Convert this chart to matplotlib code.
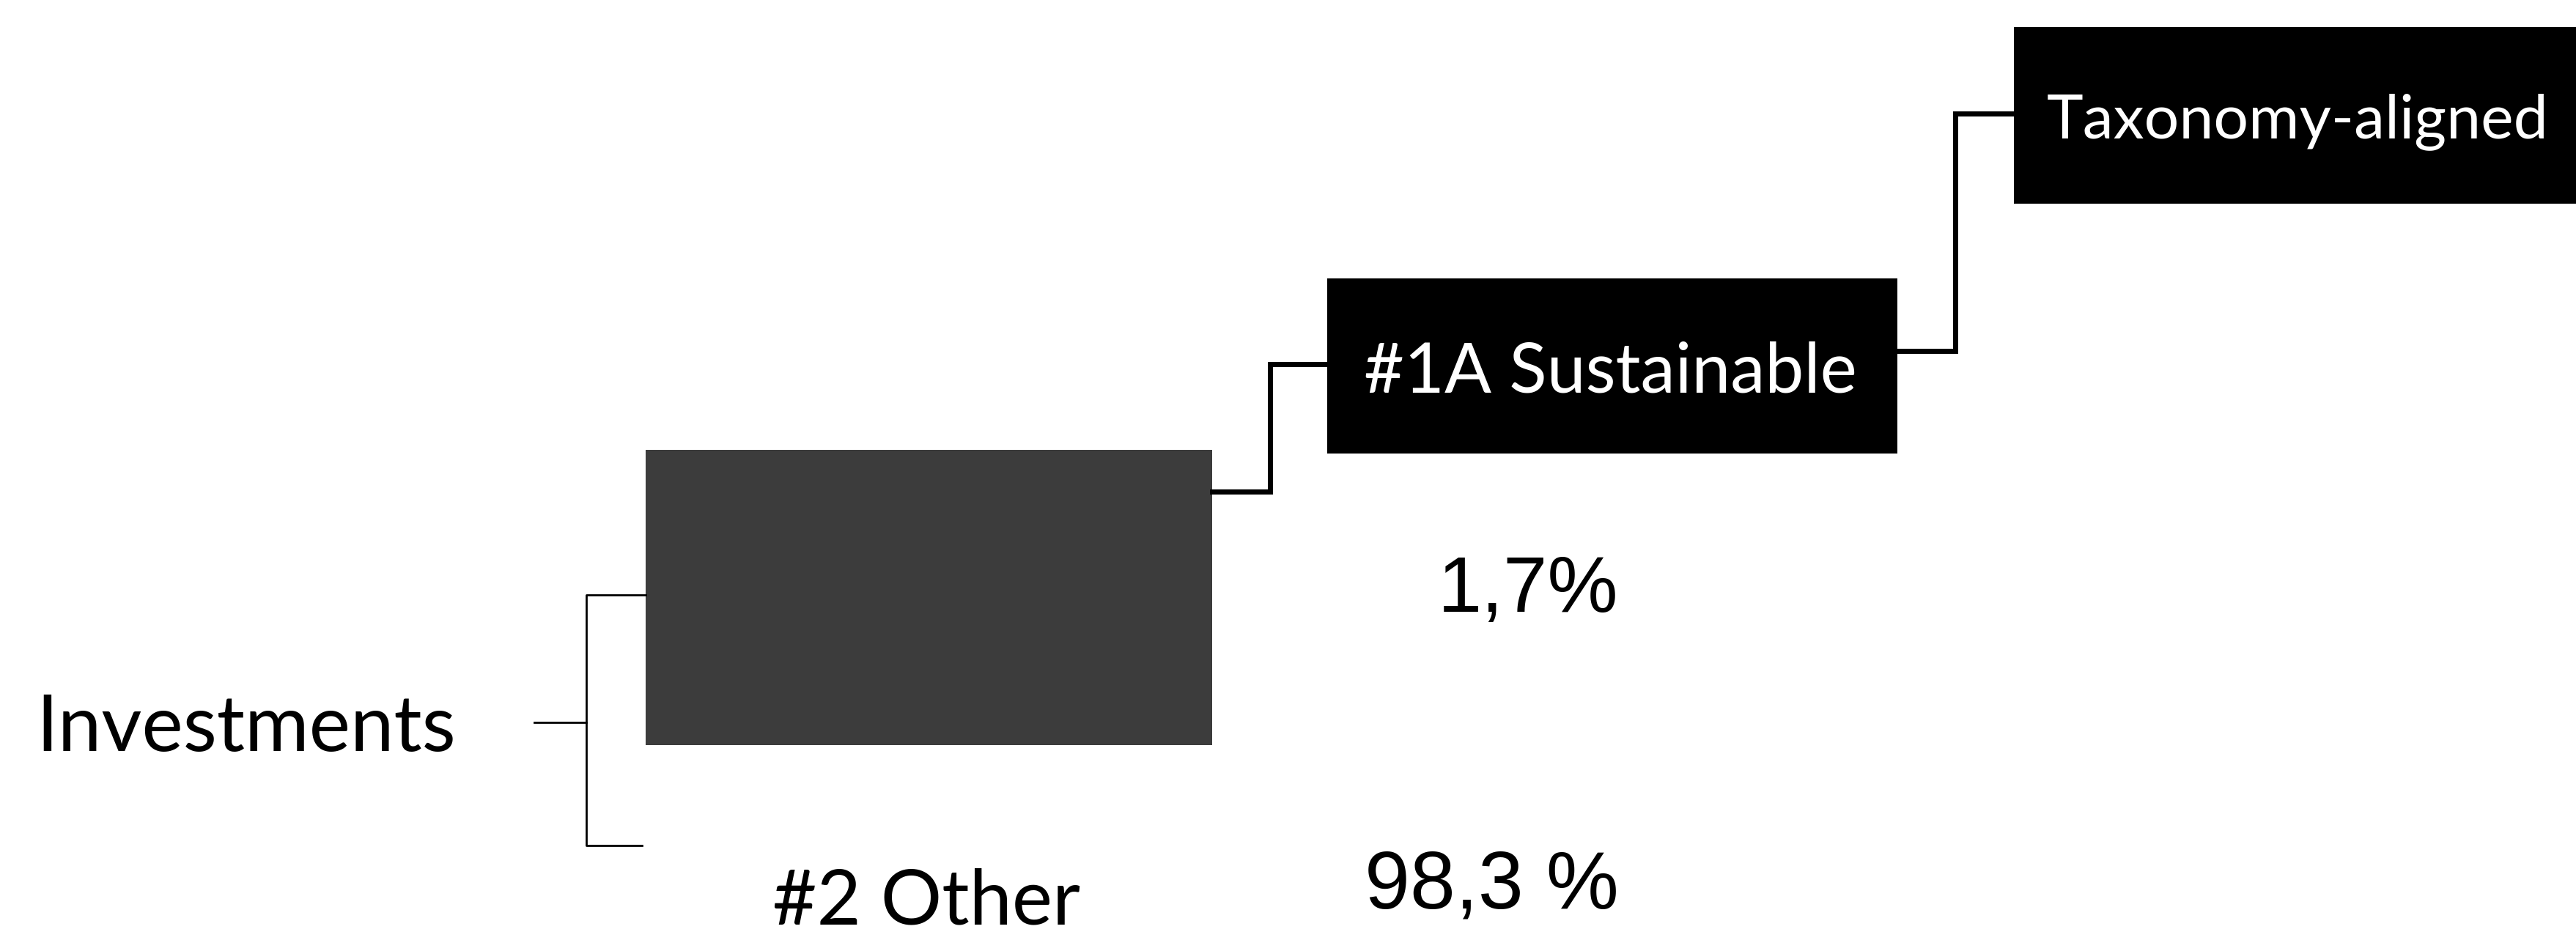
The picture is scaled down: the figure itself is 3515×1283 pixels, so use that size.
import matplotlib
matplotlib.use("Agg")
import matplotlib.pyplot as plt
from matplotlib.patches import Rectangle

# ---- content ----
root_label = "Investments"
node_labels = ["#1A Sustainable", "Taxonomy-aligned"]
other_label = "#2 Other"
share_values = [1.7, 98.3]
share_labels = ["1,7%", "98,3 %"]

W, H = 3515, 1283
DPI = 100
fig = plt.figure(figsize=(W / DPI, H / DPI), dpi=DPI)
ax = fig.add_axes([0, 0, 1, 1])
ax.set_xlim(0, W)
ax.set_ylim(H, 0)
ax.axis("off")

CAL = ["Lato", "DejaVu Sans"]
ARI = ["Liberation Sans", "DejaVu Sans"]

renderer = fig.canvas.get_renderer()


def fit_text(x, y, s, width, family, color="black", ha="left"):
    t = ax.text(x, y, s, fontsize=50, family=family, color=color,
                ha=ha, va="baseline")
    bb = t.get_window_extent(renderer=renderer)
    t.set_fontsize(50 * width / bb.width)
    return t


# bracket from "Investments"
lw_thin = 2.0
ax.plot([729, 800], [986, 986], color="black", lw=lw_thin)
ax.plot([881, 800, 800, 876], [812, 812, 1154, 1154], color="black", lw=lw_thin)

# grey (#1 aligned) box
ax.add_patch(Rectangle((881, 614), 1654 - 881, 1017 - 614,
                       facecolor="#3c3c3c", edgecolor="none"))

# connectors
lw_thick = 5.0
ax.plot([1654, 1733, 1733, 1811], [671, 671, 497, 497], color="black",
        lw=lw_thick, solid_joinstyle="miter")
ax.plot([2589, 2668, 2668, 2748], [479, 479, 155, 155], color="black",
        lw=lw_thick, solid_joinstyle="miter")

# black boxes
ax.add_patch(Rectangle((1811, 380), 2589 - 1811, 619 - 380,
                       facecolor="black", edgecolor="none"))
ax.add_patch(Rectangle((2748, 37), W - 2748 + 10, 278 - 37,
                       facecolor="black", edgecolor="none"))

# texts
fit_text(49, 1025, root_label, 574, CAL)
fit_text(2197, 536, node_labels[0], 672, CAL, color="white", ha="center")
fit_text(3135, 188, node_labels[1], 684, CAL, color="white", ha="center")
fit_text(1264, 1262, other_label, 420, CAL, ha="center")
fit_text(2085, 835, share_labels[0], 247, ARI, ha="center")
fit_text(2035, 1240, share_labels[1], 347, ARI, ha="center")

fig.savefig("out.png", dpi=DPI, facecolor="white")
